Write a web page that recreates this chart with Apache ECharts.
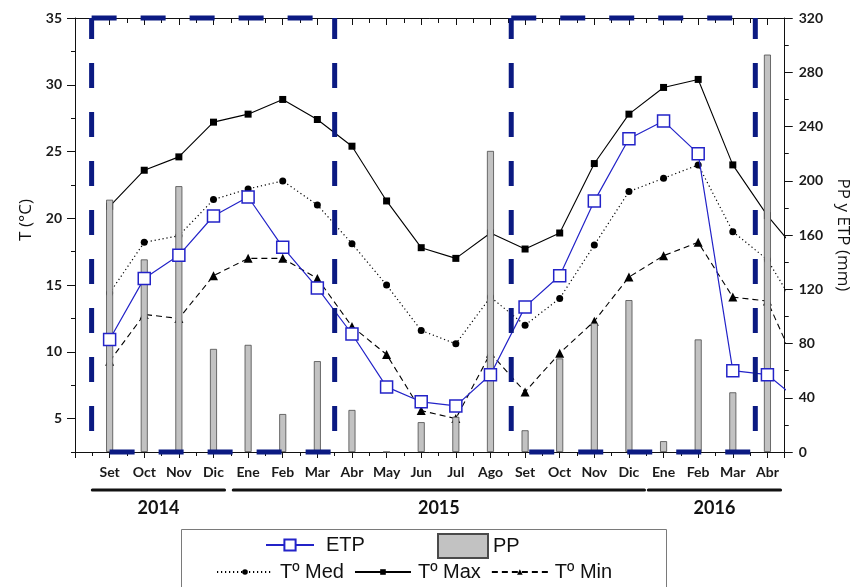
<!DOCTYPE html>
<html>
<head>
<meta charset="utf-8">
<title>Temperatura, precipitación y ETP</title>
<script src="https://cdn.jsdelivr.net/npm/echarts@6/dist/echarts.min.js"></script>
<style>
  html, body { margin: 0; padding: 0; background: #fff; }
  #chart { width: 859px; height: 587px; }
</style>
</head>
<body>
<div id="chart"></div>
<script>
// Months from September 2014 to April 2016
const months = ['Set', 'Oct', 'Nov', 'Dic', 'Ene', 'Feb', 'Mar', 'Abr', 'May', 'Jun', 'Jul', 'Ago',
                'Set', 'Oct', 'Nov', 'Dic', 'Ene', 'Feb', 'Mar', 'Abr'];

// Temperatures (°C); the last value (May 2016) runs past the right edge and is clipped
const tMax = [20.9, 23.6, 24.6, 27.2, 27.8, 28.9, 27.4, 25.4, 21.3, 17.8, 17.0, 18.9,
              17.7, 18.9, 24.1, 27.8, 29.8, 30.4, 24.0, 20.2, 17.1];
const tMed = [14.4, 18.2, 18.7, 21.4, 22.2, 22.8, 21.0, 18.1, 15.0, 11.6, 10.6, 14.1,
              12.0, 14.0, 18.0, 22.0, 23.0, 24.0, 19.0, 16.9, 12.6];
const tMin = [9.3, 12.8, 12.5, 15.7, 17.0, 17.0, 15.5, 11.9, 9.8, 5.6, 5.0, 9.9,
              7.0, 9.9, 12.3, 15.6, 17.2, 18.2, 14.1, 13.8, 8.0];

// Evapotranspiration and precipitation (mm)
const etp = [83, 128, 145, 174, 188, 151, 121, 87, 48, 37, 34, 57,
             107, 130, 185, 231, 244, 220, 60, 57, 36];
const pp = [186, 142, 196, 76, 79, 28, 67, 31, 0, 22, 26, 222,
            16, 69, 95, 112, 8, 83, 44, 293];

// Rainy-season frames, in month-index units
const seasons = [[-0.52, 6.5], [11.6, 18.65]];

// Year brackets under the month labels, in month-index units
const years = [
  { label: '2014', from: -0.5, to: 3.32 },
  { label: '2015', from: 3.57, to: 15.45 },
  { label: '2016', from: 15.56, to: 19.38 }
];

const tempLabels = [5, 10, 15, 20, 25, 30, 35];

const pairs = arr => arr.map((v, i) => [i, v]);

const AX = '#111';
const BLUE = '#2323c8';
const NAVY = '#0b1a82';
const tickFont = { fontFamily: 'Lato', fontWeight: 'bold', fontSize: 14, color: '#1a1a1a' };
const legendFont = { fontFamily: 'Liberation Sans', fontSize: 20, color: '#111' };

const chart = echarts.init(document.getElementById('chart'), null, { renderer: 'canvas' });

const option = {
  animation: false,
  backgroundColor: '#fff',
  grid: { left: 75, right: 70, top: 18, bottom: 135, containLabel: false },
  xAxis: [
    {
      type: 'value', position: 'bottom', min: -1, max: 19.5, interval: 1,
      axisLine: { show: true, onZero: false, lineStyle: { color: AX, width: 1 } },
      axisTick: { show: true, length: 6, lineStyle: { color: AX } },
      minorTick: { show: true, splitNumber: 2, length: 4, lineStyle: { color: AX } },
      splitLine: { show: false },
      axisLabel: {
        margin: 13, ...tickFont,
        formatter: v => (Number.isInteger(v) && v >= 0 && v < months.length) ? months[v] : ''
      }
    },
    {
      type: 'value', position: 'top', min: -1, max: 19.5, interval: 1,
      axisLine: { show: true, onZero: false, lineStyle: { color: AX, width: 1 } },
      axisTick: { show: true, inside: true, length: 7, lineStyle: { color: AX } },
      minorTick: { show: true, splitNumber: 2, length: 5, lineStyle: { color: AX } },
      splitLine: { show: false },
      axisLabel: { show: false }
    }
  ],
  yAxis: [
    {
      type: 'value', position: 'left', min: 2.5, max: 35, interval: 2.5,
      name: 'T (°C)', nameLocation: 'middle', nameGap: 37, nameRotate: 90,
      nameTextStyle: { fontFamily: 'Open Sans', fontSize: 17, color: '#111', padding: [0, 0, 0, 30] },
      axisLine: { show: true, onZero: false, lineStyle: { color: AX, width: 1 } },
      axisTick: { show: true, length: 8, customValues: tempLabels, lineStyle: { color: AX } },
      axisLabel: {
        margin: 13, ...tickFont, customValues: tempLabels,
        formatter: v => (v % 5 === 0 ? String(v) : '')
      },
      splitLine: { show: false }
    },
    {
      type: 'value', position: 'right', min: 0, max: 320, interval: 40,
      name: 'PP y ETP (mm)', nameLocation: 'middle', nameGap: 48, nameRotate: -90,
      nameTextStyle: { fontFamily: 'Open Sans', fontSize: 17, color: '#111' },
      axisLine: { show: true, onZero: false, lineStyle: { color: AX, width: 1 } },
      axisTick: { show: true, length: 8, lineStyle: { color: AX } },
      minorTick: { show: true, splitNumber: 2, length: 4, lineStyle: { color: AX } },
      axisLabel: { margin: 14, ...tickFont },
      splitLine: { show: false }
    },
    {
      // half-step minor ticks of the temperature scale
      type: 'value', position: 'left', min: 2.5, max: 35, interval: 2.5,
      axisLine: { show: false, onZero: false },
      axisTick: { show: true, length: 4, lineStyle: { color: AX } },
      axisLabel: { show: false },
      splitLine: { show: false }
    }
  ],
  legend: [
    {
      data: ['ETP'], left: 265, top: 535, padding: 0,
      itemWidth: 48, itemHeight: 14,
      textStyle: { ...legendFont, padding: [0, 0, 0, 7] }
    },
    {
      data: [{ name: 'PP', icon: 'rect' }], left: 437, top: 533, padding: 0,
      itemWidth: 50, itemHeight: 24,
      textStyle: { ...legendFont }
    },
    {
      data: ['Tº Med', 'Tº Max', 'Tº Min'], left: 216, top: 562, padding: 0,
      itemWidth: 56, itemHeight: 7, itemGap: 10,
      textStyle: { ...legendFont, padding: [0, 0, 0, 2] }
    }
  ],
  series: [
    {
      name: 'Tº Max', type: 'line', xAxisIndex: 0, yAxisIndex: 0, z: 2,
      data: pairs(tMax), symbol: 'rect', symbolSize: 7,
      itemStyle: { color: '#000' },
      lineStyle: { color: '#000', width: 1.1, type: 'solid' }
    },
    {
      name: 'Tº Med', type: 'line', xAxisIndex: 0, yAxisIndex: 0, z: 2,
      data: pairs(tMed), symbol: 'circle', symbolSize: 7,
      itemStyle: { color: '#000' },
      lineStyle: { color: '#000', width: 1.2, type: [1.2, 2.8] }
    },
    {
      name: 'Tº Min', type: 'line', xAxisIndex: 0, yAxisIndex: 0, z: 2,
      data: pairs(tMin), symbol: 'triangle', symbolSize: 9,
      itemStyle: { color: '#000' },
      lineStyle: { color: '#000', width: 1.1, type: [6, 4] }
    },
    {
      name: 'PP', type: 'bar', xAxisIndex: 0, yAxisIndex: 1, z: 3,
      data: pairs(pp), barWidth: 7,
      itemStyle: { color: '#c2c2c2', borderColor: '#4a4a4a', borderWidth: 0.8 }
    },
    {
      name: 'ETP', type: 'line', xAxisIndex: 0, yAxisIndex: 1, z: 4,
      data: pairs(etp), symbol: 'rect', symbolSize: 12,
      itemStyle: { color: '#fff', borderColor: BLUE, borderWidth: 1.5 },
      lineStyle: { color: BLUE, width: 1.2 }
    },
    {
      // dashed frames around the rainy seasons
      name: 'seasons', type: 'custom', xAxisIndex: 0, yAxisIndex: 0, z: 6, silent: true,
      data: seasons,
      encode: { x: [0, 1] },
      renderItem: (params, api) => {
        const tl = api.coord([api.value(0), 35]);
        const br = api.coord([api.value(1), 2.5]);
        const st = off => ({ stroke: NAVY, lineWidth: 5, lineDash: [25, 24], lineDashOffset: off, fill: null });
        return {
          type: 'group',
          children: [
            { type: 'line', shape: { x1: tl[0], y1: tl[1], x2: br[0], y2: tl[1] }, style: st(0) },
            { type: 'line', shape: { x1: tl[0], y1: br[1], x2: br[0], y2: br[1] }, style: st(31) },
            { type: 'line', shape: { x1: tl[0], y1: tl[1], x2: tl[0], y2: br[1] }, style: st(4) },
            { type: 'line', shape: { x1: br[0], y1: tl[1], x2: br[0], y2: br[1] }, style: st(4) }
          ]
        };
      }
    }
  ]
};

chart.setOption(option);

// Year brackets and legend frame
const px = v => chart.convertToPixel({ xAxisIndex: 0 }, v);
const graphics = [
  {
    type: 'rect', left: 179, top: 527, silent: true,
    shape: { width: 485, height: 80 },
    style: { fill: null, stroke: '#7a7a7a', lineWidth: 1 }
  }
];
years.forEach(y => {
  const a = px(y.from), b = px(y.to);
  graphics.push({
    type: 'line', silent: true,
    shape: { x1: a, y1: 490, x2: b, y2: 490 },
    style: { stroke: '#111', lineWidth: 3, lineCap: 'round' }
  });
  graphics.push({
    type: 'text', silent: true, x: (a + b) / 2, y: 508,
    style: { text: y.label, align: 'center', verticalAlign: 'middle', font: 'bold 18px Lato', fill: '#111' }
  });
});
chart.setOption({ graphic: graphics });
</script>
</body>
</html>
